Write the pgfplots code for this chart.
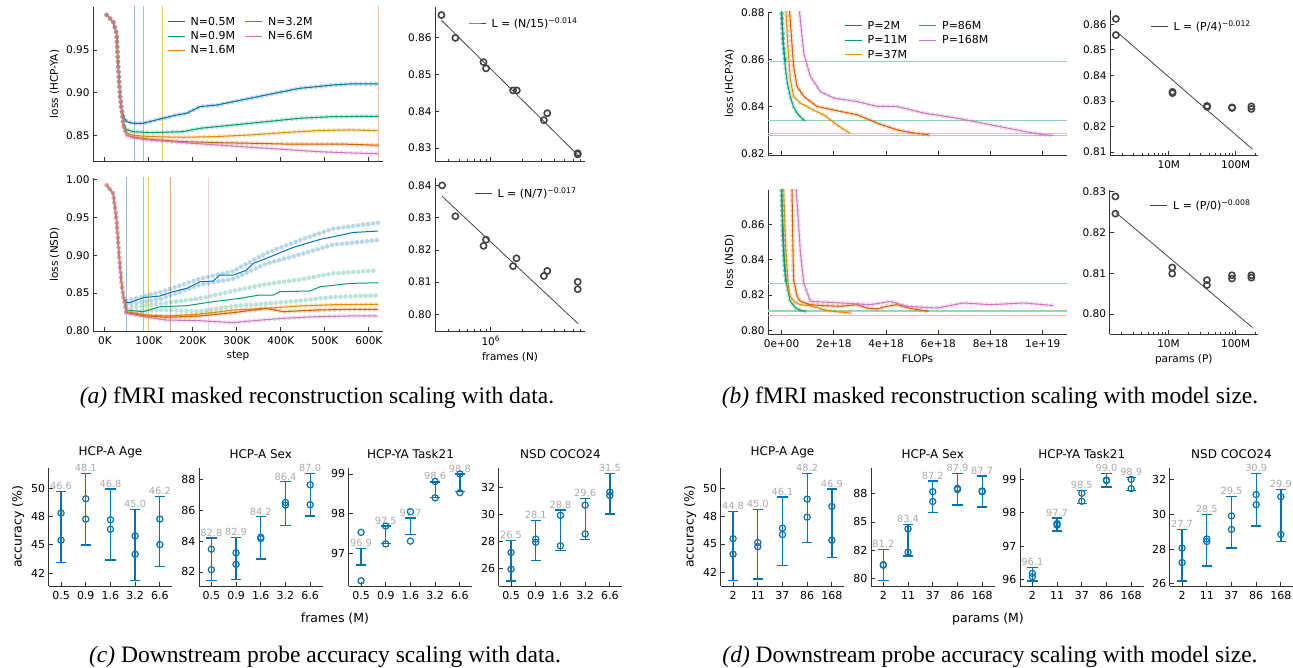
\documentclass[border=0pt]{standalone}
\usepackage{pgfplots}
\pgfplotsset{compat=1.18}
\usepackage{pgfplotstable}
\usepackage{fontspec}
\setmainfont{DejaVu Sans}
\newfontfamily\capfont{Liberation Serif}

\definecolor{cbBlue}{HTML}{0173B2}
\definecolor{cbGreen}{HTML}{029E73}
\definecolor{cbYellow}{HTML}{DE8F05}
\definecolor{cbOrange}{HTML}{D55E00}
\definecolor{cbPink}{HTML}{CC78BC}
\definecolor{spine}{HTML}{333333}
\definecolor{fitgray}{HTML}{444444}
\definecolor{annot}{HTML}{AAAAAA}

\newcommand\tfont{\fontsize{10.5}{12}\selectfont}
\newcommand\lfont{\fontsize{11}{12}\selectfont}
\newcommand\bfont{\fontsize{11}{13}\selectfont}
\newcommand\afont{\fontsize{9.8}{11}\selectfont}
\newcommand\lgap{\hspace{4pt}}

\pgfplotsset{
  panel/.style={scale only axis, anchor=south west,
    axis x line*=bottom, axis y line*=left,
    tick align=inside,
    axis line style={spine, line width=0.9pt},
    tick style={spine, line width=0.9pt},
    major tick length=4pt, minor tick length=2.4pt,
    tick label style={font=\tfont},
    label style={font=\tfont},
    xticklabel style={yshift=-2pt},
    legend style={draw=none, fill=none, font=\lfont, inner sep=0pt,
      nodes={inner sep=1.5pt}, row sep=1.7pt},
    legend cell align=left},
  bpanel/.style={panel, width=123.5pt, height=118pt, xmin=-0.5, xmax=4.5,
    xtick={0,...,4}, clip=false,
    tick label style={font=\bfont},
    label style={font=\fontsize{12.5}{14}\selectfont},
    title style={font=\fontsize{12}{14}\selectfont}},
  halo/.style={line width=4.6pt, dash pattern=on 0pt off 5pt, line cap=round,
    opacity=0.28, forget plot},
  crv/.style={line width=1pt, forget plot},
  vline/.style={line width=1pt, forget plot},
  pts/.style={only marks, mark=o, mark size=3.1pt, fitgray,
    mark options={line width=1.6pt}, forget plot},
  fitline/.style={fitgray, line width=0.8pt},
  lbl/.style={draw=none, mark=none, nodes near coords,
    point meta=explicit symbolic,
    every node near coord/.append style={anchor=south, font=\afont,
      text=annot, inner sep=1.5pt}},
  ebar/.style={draw=none, mark=none,
    error bars/.cd, y dir=both, y explicit,
    error bar style={draw=cbBlue, line width=1.3pt},
    error mark options={rotate=90, mark size=5.2pt, line width=1.3pt, draw=cbBlue}},
  circ/.style={only marks, mark=o, mark size=3.1pt, cbBlue,
    mark options={line width=1.2pt}},
  logN/.style={xmin=5.472, xmax=6.891, xtick={6},
    minor xtick={5.4771,5.6021,5.6990,5.7782,5.8451,5.9031,5.9542,
      6.3010,6.4771,6.6021,6.6990,6.7782,6.8451}},
  logP/.style={xmin=6.121, xmax=8.333, xtick={7,8}, xticklabels={10M,100M},
    minor xtick={6.3010,6.4771,6.6021,6.6990,6.7782,6.8451,6.9031,6.9542,
      7.3010,7.4771,7.6021,7.6990,7.7782,7.8451,7.9031,7.9542,8.3010}},
}

\newcommand\curve[2]{\addplot[#1,halo] table {#2};\addplot[#1,crv] table {#2};}

% ---------- (a) loss vs step, HCP-YA (step in K) ----------
\pgfplotstableread{
x y
4 0.991
19 0.983
26.5 0.9695
30.3 0.9305
34 0.8992
38 0.880
44 0.870
50 0.866
64 0.8641
87 0.8641
117 0.868
163 0.8738
186 0.8758
216 0.8836
254 0.8855
292 0.8894
330 0.8934
367 0.8973
405 0.9012
443 0.9051
481 0.907
519 0.909
557 0.9102
621 0.9102
}\aBlue
\pgfplotstableread{
x y
4 0.991
19 0.983
26.5 0.9695
30.3 0.9305
34 0.8992
38 0.880
42 0.865
48 0.857
64 0.8543
102 0.8531
178 0.8543
216 0.8582
292 0.8621
367 0.866
443 0.870
519 0.8719
621 0.8723
}\aGreen
\pgfplotstableread{
x y
4 0.991
19 0.983
26.5 0.9695
30.3 0.9305
34 0.8992
38 0.880
42 0.862
49 0.853
64 0.850
102 0.8485
178 0.8477
254 0.8485
330 0.8504
405 0.8531
481 0.8555
557 0.8563
621 0.8555
}\aYellow
\pgfplotstableread{
x y
4 0.991
19 0.983
26.5 0.9695
30.3 0.9305
34 0.8992
38 0.880
42 0.860
49 0.8504
64 0.848
102 0.8453
178 0.8426
254 0.8414
330 0.8407
405 0.8398
481 0.8398
557 0.8395
621 0.8383
}\aOrange
\pgfplotstableread{
x y
4 0.991
19 0.983
26.5 0.9695
30.3 0.9305
34 0.8992
38 0.880
42 0.860
49 0.8504
64 0.847
102 0.8445
178 0.8414
254 0.8387
330 0.836
405 0.8336
481 0.8309
557 0.8293
621 0.8285
}\aPink

% ---------- (a) loss vs step, NSD ----------
\pgfplotstableread{
x y
4 0.9925
19 0.9816
26.5 0.9464
32 0.9024
37 0.8673
42 0.8453
49 0.8374
56 0.8374
87 0.8439
125 0.8462
155 0.8519
186 0.8563
216 0.865
246 0.8659
261 0.8738
292 0.8738
322 0.8804
337 0.8892
367 0.8959
398 0.9033
428 0.9103
458 0.9156
489 0.9209
519 0.9244
564 0.9301
621 0.9319
}\nBlue
\pgfplotstableread{
x y
49 0.840
125 0.851
216 0.869
292 0.879
367 0.903
443 0.920
519 0.935
621 0.943
}\nBlueU
\pgfplotstableread{
x y
49 0.835
125 0.842
216 0.861
292 0.869
367 0.889
443 0.901
519 0.914
621 0.920
}\nBlueL
\pgfplotstableread{
x y
4 0.9925
19 0.9816
26.5 0.9464
32 0.9024
37 0.8673
42 0.8453
49 0.8277
87 0.8255
125 0.832
186 0.8334
246 0.8387
307 0.8431
352 0.8475
383 0.8475
398 0.8519
466 0.8528
489 0.8584
557 0.8628
621 0.8637
}\nGreen
\pgfplotstableread{
x y
49 0.830
125 0.836
216 0.843
292 0.853
367 0.862
443 0.868
519 0.876
621 0.880
}\nGreenU
\pgfplotstableread{
x y
49 0.8255
125 0.828
216 0.826
292 0.833
367 0.836
443 0.840
519 0.845
621 0.847
}\nGreenL
\pgfplotstableread{
x y
4 0.9925
19 0.9816
26.5 0.9464
32 0.9024
37 0.8673
42 0.8453
49 0.8255
95 0.8211
140 0.8198
216 0.8224
292 0.8277
367 0.8299
443 0.833
519 0.8347
621 0.8352
}\nYellow
\pgfplotstableread{
x y
4 0.9925
19 0.9816
26.5 0.9464
32 0.9024
37 0.8673
42 0.8453
49 0.8242
95 0.8198
140 0.8181
216 0.8198
292 0.8242
367 0.8299
405 0.8255
481 0.8277
557 0.8286
621 0.8286
}\nOrange
\pgfplotstableread{
x y
4 0.9925
19 0.9816
26.5 0.9464
32 0.9024
37 0.8673
42 0.8453
49 0.8233
95 0.8181
140 0.8145
216 0.8136
254 0.8123
292 0.811
337 0.8136
405 0.8167
481 0.8189
557 0.8198
621 0.8198
}\nPink

% ---------- (b) loss vs FLOPs (x in 1e18), HCP-YA ----------
\pgfplotstableread{
x y
-0.05 0.95
0.0 0.88
0.06 0.867
0.12 0.861
0.16 0.8591
}\bBlue
\pgfplotstableread{
x y
-0.03 0.95
0.0 0.88
0.06 0.868
0.14 0.857
0.22 0.850
0.33 0.8443
0.45 0.840
0.59 0.8372
0.75 0.8352
0.91 0.8338
}\bGreen
\pgfplotstableread{
x y
0.12 0.90
0.17 0.88
0.24 0.866
0.33 0.852
0.46 0.8443
0.7 0.8415
0.97 0.840
1.3 0.838
1.61 0.8365
1.9 0.834
2.12 0.8322
2.4 0.830
2.63 0.8286
}\bYellow
\pgfplotstableread{
x y
0.27 0.90
0.31 0.88
0.46 0.8572
0.59 0.8486
0.85 0.8443
1.36 0.840
2.25 0.8379
2.89 0.8365
3.66 0.8329
4.42 0.830
5.0 0.8288
5.63 0.8279
}\bOrange
\pgfplotstableread{
x y
0.65 0.90
0.69 0.88
0.85 0.8628
1.10 0.8529
1.48 0.8464
1.99 0.8436
2.89 0.8421
3.66 0.840
4.42 0.840
5.44 0.8372
6.72 0.835
8.0 0.8322
9.27 0.8294
10.04 0.8279
10.42 0.8277
}\bPink

% ---------- (b) loss vs FLOPs, NSD ----------
\pgfplotstableread{
x y
-0.05 0.95
0.0 0.88
0.04 0.855
0.1 0.838
0.15 0.830
0.18 0.8267
}\mBlue
\pgfplotstableread{
x y
-0.03 0.95
0.0 0.88
0.05 0.86
0.1 0.842
0.18 0.827
0.33 0.8164
0.55 0.8125
0.75 0.8112
0.91 0.8107
}\mGreen
\pgfplotstableread{
x y
0.05 0.95
0.08 0.88
0.15 0.85
0.25 0.826
0.33 0.8193
0.5 0.816
0.72 0.8145
1.1 0.814
1.61 0.8117
2.1 0.8105
2.63 0.8098
}\mYellow
\pgfplotstableread{
x y
0.36 0.95
0.40 0.88
0.43 0.85
0.46 0.8288
0.6 0.819
0.72 0.8164
1.10 0.8145
1.6 0.8140
2.25 0.8136
2.89 0.8145
3.3 0.8125
3.66 0.8121
4.0 0.8135
4.42 0.8145
4.93 0.8124
5.63 0.8107
}\mOrange
\pgfplotstableread{
x y
0.52 0.95
0.56 0.88
0.65 0.86
0.72 0.8442
0.85 0.8269
1.10 0.8164
1.6 0.8160
2.25 0.8155
3.40 0.8145
4.17 0.8164
4.80 0.8136
5.95 0.8126
6.97 0.8155
8.0 0.8145
9.27 0.8155
10.04 0.8145
10.42 0.814
}\mPink

\begin{document}
\begin{tikzpicture}
\useasboundingbox (0pt,0pt) rectangle (1293pt,668pt);

% ===== (a) top: HCP-YA loss vs step =====
\begin{axis}[panel, at={(93pt,507pt)}, width=290pt, height=154pt,
  xmin=-27, xmax=632, ymin=0.8199, ymax=1.0004,
  xtick={0,100,...,600}, xticklabels={},
  ytick={0.85,0.90,0.95}, yticklabels={0.85,0.90,0.95},
  ylabel={loss (HCP-YA)},
  legend columns=2,
  legend style={at={(0.255,0.947)}, anchor=north west,
    /tikz/every even column/.append style={column sep=8pt}}]
\addplot[cbBlue!45, vline] coordinates {(68,0.7)(68,1.1)};
\addplot[cbGreen!45, vline] coordinates {(87,0.7)(87,1.1)};
\addplot[cbYellow!55, vline] coordinates {(130,0.7)(130,1.1)};
\addplot[cbPink!50, vline] coordinates {(621,0.7)(621,1.1)};
\addplot[cbOrange!40, vline] coordinates {(621,0.7)(621,1.1)};
\curve{cbBlue}{\aBlue}
\curve{cbGreen}{\aGreen}
\curve{cbYellow}{\aYellow}
\curve{cbOrange}{\aOrange}
\curve{cbPink}{\aPink}
\addlegendimage{cbBlue, line width=1pt}\addlegendentry{\lgap N=0.5M}
\addlegendimage{cbOrange, line width=1pt}\addlegendentry{\lgap N=3.2M}
\addlegendimage{cbGreen, line width=1pt}\addlegendentry{\lgap N=0.9M}
\addlegendimage{cbPink, line width=1pt}\addlegendentry{\lgap N=6.6M}
\addlegendimage{cbYellow, line width=1pt}\addlegendentry{\lgap N=1.6M}
\end{axis}

% ===== (a) bottom: NSD loss vs step =====
\begin{axis}[panel, at={(93pt,337pt)}, width=290pt, height=153pt,
  xmin=-27, xmax=632, ymin=0.80, ymax=1.002,
  xtick={0,100,...,600},
  xticklabels={0K,100K,200K,300K,400K,500K,600K},
  ytick={0.80,0.85,0.90,0.95,1.00},
  yticklabels={0.80,0.85,0.90,0.95,1.00},
  xlabel={step}, ylabel={loss (NSD)}]
\addplot[cbBlue!45, vline] coordinates {(49,0.7)(49,1.1)};
\addplot[cbGreen!45, vline] coordinates {(87,0.7)(87,1.1)};
\addplot[cbYellow!55, vline] coordinates {(99,0.7)(99,1.1)};
\addplot[cbOrange!55, vline] coordinates {(148,0.7)(148,1.1)};
\addplot[cbPink!35, vline] coordinates {(236,0.7)(236,1.1)};
\addplot[cbBlue,halo] table {\nBlueU};
\addplot[cbBlue,halo] table {\nBlueL};
\addplot[cbBlue,crv] table {\nBlue};
\addplot[cbGreen,halo] table {\nGreenU};
\addplot[cbGreen,halo] table {\nGreenL};
\addplot[cbGreen,crv] table {\nGreen};
\curve{cbYellow}{\nYellow}
\curve{cbOrange}{\nOrange}
\curve{cbPink}{\nPink}
\end{axis}

% ===== (a) right top: scaling HCP-YA (x = log10 frames) =====
\begin{axis}[panel, logN, at={(435pt,507pt)}, width=150pt, height=154pt,
  ymin=0.8265, ymax=0.8684, xticklabels={},
  ytick={0.83,0.84,0.85,0.86}, yticklabels={0.83,0.84,0.85,0.86},
  legend style={at={(0.22,0.896)}, anchor=west}]
\addplot[pts] coordinates {(5.533,0.8662)(5.665,0.8600)(5.931,0.8534)
  (5.955,0.8517)(6.211,0.8457)(6.246,0.8457)(6.502,0.8376)
  (6.534,0.8395)(6.822,0.8286)(6.822,0.8283)};
\addplot[fitline] coordinates {(5.533,0.8648)(6.828,0.8280)};
\addlegendentry{\lgap L = (N/15)\textsuperscript{−0.014}}
\end{axis}

% ===== (a) right bottom: scaling NSD =====
\begin{axis}[panel, logN, at={(435pt,337pt)}, width=150pt, height=153pt,
  ymin=0.7948, ymax=0.8424, xticklabels={10\textsuperscript{6}},
  ytick={0.80,0.81,0.82,0.83,0.84}, yticklabels={0.80,0.81,0.82,0.83,0.84},
  xlabel={frames (N)},
  legend style={at={(0.26,0.9)}, anchor=west}]
\addplot[pts] coordinates {(5.539,0.8401)(5.665,0.8305)(5.931,0.8213)
  (5.955,0.8232)(6.211,0.8150)(6.243,0.8174)(6.502,0.8119)
  (6.534,0.8135)(6.822,0.8101)(6.822,0.8078)};
\addplot[fitline] coordinates {(5.539,0.8367)(6.828,0.7970)};
\addlegendentry{\lgap L = (N/7)\textsuperscript{−0.017}}
\end{axis}

% ===== (b) top: HCP-YA loss vs FLOPs =====
\begin{axis}[panel, at={(768pt,513pt)}, width=299pt, height=143pt,
  xmin=-0.52, xmax=10.93, ymin=0.8193, ymax=0.8803,
  xtick={0,2,4,6,8,10}, xticklabels={},
  ytick={0.82,0.84,0.86,0.88}, yticklabels={0.82,0.84,0.86,0.88},
  ylabel={loss (HCP-YA)},
  legend columns=2,
  legend style={at={(0.254,0.948)}, anchor=north west,
    /tikz/every even column/.append style={column sep=10pt}}]
\addplot[cbBlue!40, vline] coordinates {(-1,0.8591)(12,0.8591)};
\addplot[cbGreen!45, vline] coordinates {(-1,0.8338)(12,0.8338)};
\addplot[cbYellow!50, vline] coordinates {(-1,0.8286)(12,0.8286)};
\addplot[cbPink!50, vline] coordinates {(-1,0.8276)(12,0.8276)};
\addplot[cbOrange!45, vline] coordinates {(-1,0.8278)(12,0.8278)};
\curve{cbBlue}{\bBlue}
\curve{cbGreen}{\bGreen}
\curve{cbYellow}{\bYellow}
\curve{cbOrange}{\bOrange}
\curve{cbPink}{\bPink}
\addlegendimage{cbBlue, line width=1pt}\addlegendentry{\lgap P=2M}
\addlegendimage{cbOrange, line width=1pt}\addlegendentry{\lgap P=86M}
\addlegendimage{cbGreen, line width=1pt}\addlegendentry{\lgap P=11M}
\addlegendimage{cbPink, line width=1pt}\addlegendentry{\lgap P=168M}
\addlegendimage{cbYellow, line width=1pt}\addlegendentry{\lgap P=37M}
\end{axis}

% ===== (b) bottom: NSD loss vs FLOPs =====
\begin{axis}[panel, at={(768pt,334pt)}, width=299pt, height=144pt,
  xmin=-0.52, xmax=10.93, ymin=0.7979, ymax=0.8795,
  xtick={0,2,4,6,8,10},
  xticklabels={0e+00,2e+18,4e+18,6e+18,8e+18,1e+19},
  ytick={0.80,0.82,0.84,0.86}, yticklabels={0.80,0.82,0.84,0.86},
  xlabel={FLOPs}, ylabel={loss (NSD)}]
\addplot[cbBlue!40, vline] coordinates {(-1,0.8267)(12,0.8267)};
\addplot[cbGreen!45, vline] coordinates {(-1,0.8113)(12,0.8113)};
\addplot[cbPink!50, vline] coordinates {(-1,0.8106)(12,0.8106)};
\addplot[cbOrange!45, vline] coordinates {(-1,0.8104)(12,0.8104)};
\addplot[cbYellow!50, vline] coordinates {(-1,0.8086)(12,0.8086)};
\curve{cbBlue}{\mBlue}
\curve{cbGreen}{\mGreen}
\curve{cbYellow}{\mYellow}
\curve{cbOrange}{\mOrange}
\curve{cbPink}{\mPink}
\end{axis}

% ===== (b) right top: scaling HCP-YA (x = log10 params) =====
\begin{axis}[panel, logP, at={(1110pt,513pt)}, width=148pt, height=145pt,
  ymin=0.8089, ymax=0.8656,
  ytick={0.81,0.82,0.83,0.84,0.85,0.86},
  yticklabels={0.81,0.82,0.83,0.84,0.85,0.86},
  legend style={at={(0.27,0.885)}, anchor=west}]
\addplot[pts] coordinates {(6.209,0.8621)(6.209,0.8558)(7.055,0.8336)
  (7.055,0.8331)(7.572,0.8281)(7.572,0.8277)(7.945,0.8275)
  (7.945,0.8273)(8.234,0.8279)(8.234,0.8269)};
\addplot[fitline] coordinates {(6.219,0.8571)(8.249,0.8112)};
\addlegendentry{\lgap L = (P/4)\textsuperscript{−0.012}}
\end{axis}

% ===== (b) right bottom: scaling NSD =====
\begin{axis}[panel, logP, at={(1109.5pt,334pt)}, width=148.5pt, height=144pt,
  ymin=0.7951, ymax=0.8304,
  ytick={0.80,0.81,0.82,0.83}, yticklabels={0.80,0.81,0.82,0.83},
  xlabel={params (P)},
  legend style={at={(0.27,0.896)}, anchor=west}]
\addplot[pts] coordinates {(6.209,0.8288)(6.209,0.8246)(7.055,0.8114)
  (7.055,0.8099)(7.572,0.8083)(7.572,0.8071)(7.945,0.8095)
  (7.945,0.8087)(8.234,0.8095)(8.234,0.8089)};
\addplot[fitline] coordinates {(6.219,0.8248)(8.249,0.7967)};
\addlegendentry{\lgap L = (P/0)\textsuperscript{−0.008}}
\end{axis}

% ===== (c) probes vs frames =====
\begin{axis}[bpanel, at={(48.7pt,82pt)}, ymin=41.38, ymax=51.77,
  ytick={42.5,45,47.5,50}, yticklabels={42,45,48,50},
  xticklabels={0.5,0.9,1.6,3.2,6.6}, title={HCP-A Age}, ylabel={accuracy (\%)}]
\addplot[lbl] coordinates {(0,49.70)[46.6] (1,51.30)[48.1] (2,49.91)[46.8] (3,48.11)[45.0] (4,49.26)[46.2]};
\addplot[ebar] coordinates {(0,46.57) +- (0,3.13) (1,48.15) +- (0,3.15) (2,46.79) +- (0,3.12) (3,44.98) +- (0,3.13) (4,46.17) +- (0,3.09)};
\addplot[circ] coordinates {(0,47.80)(0,45.41)(1,49.06)(1,47.27)(2,47.21)(2,46.38)(3,45.79)(3,44.17)(4,47.27)(4,45.03)};
\end{axis}

\begin{axis}[bpanel, at={(199pt,82pt)}, ymin=81.09, ymax=88.76,
  ytick={82,84,86,88}, yticklabels={82,84,86,88},
  xticklabels={0.5,0.9,1.6,3.2,6.6}, title={HCP-A Sex}]
\addplot[lbl] coordinates {(0,84.20)[82.8] (1,84.26)[82.9] (2,85.58)[84.2] (3,87.85)[86.4] (4,88.41)[87.0]};
\addplot[ebar] coordinates {(0,82.82) +- (0,1.39) (1,82.88) +- (0,1.38) (2,84.22) +- (0,1.37) (3,86.45) +- (0,1.41) (4,87.03) +- (0,1.39)};
\addplot[circ] coordinates {(0,83.48)(0,82.15)(1,83.24)(1,82.50)(2,84.26)(2,84.17)(3,86.52)(3,86.35)(4,87.67)(4,86.37)};
\end{axis}

\begin{axis}[bpanel, at={(348.7pt,82pt)}, ymin=96.18, ymax=99.15,
  ytick={97,98,99}, yticklabels={97,98,99},
  xticklabels={0.5,0.9,1.6,3.2,6.6}, title={HCP-YA Task21}]
\addplot[lbl] coordinates {(0,97.13)[96.9] (1,97.68)[97.5] (2,97.88)[97.7] (3,98.81)[98.6] (4,99.00)[98.8]};
\addplot[ebar] coordinates {(0,96.92) +- (0,0.21) (1,97.47) +- (0,0.22) (2,97.68) +- (0,0.21) (3,98.60) +- (0,0.20) (4,98.78) +- (0,0.22)};
\addplot[circ] coordinates {(0,97.53)(0,96.31)(1,97.69)(1,97.24)(2,98.05)(2,97.31)(3,98.81)(3,98.40)(4,99.00)(4,98.53)};
\end{axis}

\begin{axis}[bpanel, at={(498.7pt,82pt)}, ymin=24.68, ymax=33.45,
  ytick={26,28,30,32}, yticklabels={26,28,30,32},
  xticklabels={0.5,0.9,1.6,3.2,6.6}, title={NSD COCO24}]
\addplot[lbl] coordinates {(0,28.04)[26.5] (1,29.55)[28.1] (2,30.32)[28.8] (3,31.16)[29.6] (4,33.04)[31.5]};
\addplot[ebar] coordinates {(0,26.55) +- (0,1.49) (1,28.05) +- (0,1.50) (2,28.81) +- (0,1.51) (3,29.64) +- (0,1.52) (4,31.54) +- (0,1.50)};
\addplot[circ] coordinates {(0,27.17)(0,25.93)(1,28.17)(1,27.93)(2,29.93)(2,27.67)(3,30.69)(3,28.55)(4,31.66)(4,31.41)};
\end{axis}

% ===== (d) probes vs params =====
\begin{axis}[bpanel, at={(720.7pt,82pt)}, ymin=41.25, ymax=51.79,
  ytick={42.5,45,47.5,50}, yticklabels={42,45,48,50},
  xticklabels={2,11,37,86,168}, title={HCP-A Age}, ylabel={accuracy (\%)}]
\addplot[lbl] coordinates {(0,47.90)[44.8] (1,48.06)[45.0] (2,49.19)[46.1] (3,51.31)[48.2] (4,49.91)[46.9]};
\addplot[ebar] coordinates {(0,44.81) +- (0,3.09) (1,44.97) +- (0,3.10) (2,46.13) +- (0,3.07) (3,48.22) +- (0,3.09) (4,46.85) +- (0,3.07)};
\addplot[circ] coordinates {(0,45.48)(0,44.09)(1,45.13)(1,44.77)(2,46.42)(2,45.84)(3,49.01)(3,47.40)(4,48.35)(4,45.33)};
\end{axis}

\begin{axis}[bpanel, at={(871pt,82pt)}, ymin=79.38, ymax=89.74,
  ytick={80,82.5,85,87.5}, yticklabels={80,82,85,88},
  xticklabels={2,11,37,86,168}, title={HCP-A Sex}]
\addplot[lbl] coordinates {(0,82.61)[81.2] (1,84.75)[83.4] (2,88.60)[87.2] (3,89.27)[87.9] (4,89.04)[87.7]};
\addplot[ebar] coordinates {(0,81.23) +- (0,1.38) (1,83.39) +- (0,1.37) (2,87.22) +- (0,1.38) (3,87.88) +- (0,1.39) (4,87.68) +- (0,1.37)};
\addplot[circ] coordinates {(0,81.26)(0,81.20)(1,84.40)(1,82.35)(2,87.66)(2,86.80)(3,87.95)(3,87.85)(4,87.72)(4,87.66)};
\end{axis}

\begin{axis}[bpanel, at={(1020pt,82pt)}, ymin=95.8, ymax=99.35,
  ytick={96,97,98,99}, yticklabels={96,97,98,99},
  xticklabels={2,11,37,86,168}, title={HCP-YA Task21}]
\addplot[lbl] coordinates {(0,96.35)[96.1] (1,97.85)[97.7] (2,98.68)[98.5] (3,99.18)[99.0] (4,99.07)[98.9]};
\addplot[ebar] coordinates {(0,96.15) +- (0,0.20) (1,97.65) +- (0,0.20) (2,98.48) +- (0,0.20) (3,98.98) +- (0,0.20) (4,98.87) +- (0,0.20)};
\addplot[circ] coordinates {(0,96.18)(0,96.08)(1,97.68)(1,97.63)(2,98.59)(2,98.35)(3,98.99)(3,98.97)(4,99.01)(4,98.73)};
\end{axis}

\begin{axis}[bpanel, at={(1169.7pt,82pt)}, ymin=25.88, ymax=32.68,
  ytick={26,28,30,32}, yticklabels={26,28,30,32},
  xticklabels={2,11,37,86,168}, title={NSD COCO24}]
\addplot[lbl] coordinates {(0,29.15)[27.7] (1,30.00)[28.5] (2,31.02)[29.5] (3,32.36)[30.9] (4,31.44)[29.9]};
\addplot[ebar] coordinates {(0,27.66) +- (0,1.49) (1,28.52) +- (0,1.48) (2,29.55) +- (0,1.48) (3,30.85) +- (0,1.51) (4,29.95) +- (0,1.49)};
\addplot[circ] coordinates {(0,28.06)(0,27.23)(1,28.59)(1,28.44)(2,29.92)(2,29.14)(3,31.15)(3,30.57)(4,31.02)(4,28.85)};
\end{axis}

% shared labels and captions
\node[font=\fontsize{12.5}{14}\selectfont] at (335pt,49pt) {frames (M)};
\node[font=\fontsize{12.5}{14}\selectfont] at (988pt,49pt) {params (M)};
\begin{scope}[every node/.style={font=\capfont\fontsize{23.5}{27}\selectfont, anchor=base}]
\node at (317pt,264pt) {\textit{(a)} fMRI masked reconstruction scaling with data.};
\node at (990pt,264pt) {\textit{(b)} fMRI masked reconstruction scaling with model size.};
\node at (325pt,5pt) {\textit{(c)} Downstream probe accuracy scaling with data.};
\node at (990pt,5pt) {\textit{(d)} Downstream probe accuracy scaling with model size.};
\end{scope}
\end{tikzpicture}
\end{document}
